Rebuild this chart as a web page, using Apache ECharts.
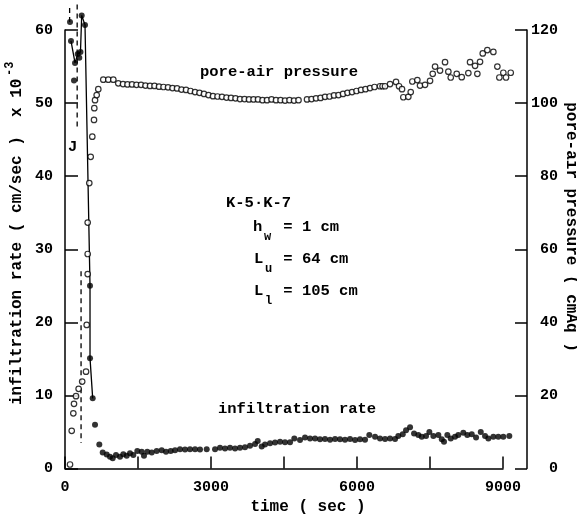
<!DOCTYPE html>
<html><head><meta charset="utf-8">
<script src="https://cdn.jsdelivr.net/npm/echarts@6/dist/echarts.min.js"></script>
<style>html,body{margin:0;padding:0;background:#fff}#c{width:577px;height:520px}</style>
</head><body><div id="c"></div>
<script>
// ---- data ----
const xTickLabels = [0, 3000, 6000, 9000];
const leftTicks = [0, 10, 20, 30, 40, 50, 60];
const rightTicks = [0, 20, 40, 60, 80, 100, 120];

// pore-air pressure (cmAq), open circles, right axis
const airT = [103,138,171,185,226,280,353,432,446,466,466,466,499,528,561,596,602,617,651,684,787,890,993,1095,
  1192,1284,1377,1469,1562,1654,1747,1839,1932,2024,2117,2209,2302,2394,2487,2579,2672,2764,2856,2949,
  3041,3134,3226,3319,3411,3504,3596,3689,3781,3874,3966,4059,4151,4244,4336,4429,4521,4613,4706,4798,
  4973,5066,5158,5251,5343,5436,5528,5620,5713,5805,5898,5990,6083,6175,6268,6360,
  6473,6525,6576,6679,6802,6864,6925,6952,7055,7104,7137,7240,7295,7398,7501,7556,7604,7706,7809,7877,
  7926,8049,8152,8288,8323,8426,8473,8528,8584,8678,8802,8884,8925,9007,9062,9159];
const airP = [1.1,10.3,15.1,17.7,19.8,21.8,23.8,26.5,39.3,53.2,58.7,67.3,78.1,85.3,90.8,95.4,98.6,100.8,102.2,103.8,106.4,106.4,106.4,105.4,
  105.2,105.1,105.1,105.0,105.0,104.8,104.7,104.7,104.5,104.4,104.3,104.1,104.0,103.7,103.6,103.3,103.0,102.8,102.5,102.2,
  101.9,101.8,101.7,101.5,101.4,101.3,101.1,101.1,101.0,101.0,101.0,100.8,100.8,101.0,100.8,100.8,100.7,100.8,100.7,100.8,
  101.0,101.1,101.3,101.4,101.7,101.8,102.1,102.2,102.5,102.8,103.0,103.3,103.6,103.8,104.1,104.4,
  104.6,104.6,104.6,105.2,105.8,104.6,103.8,101.6,101.7,103.0,105.9,106.3,104.8,105.0,106.1,108.0,110.0,108.9,111.2,108.6,
  107.0,108.0,107.1,108.2,111.2,110.2,108.0,111.3,113.6,114.5,114.0,110.0,107.0,108.3,107.0,108.3];

// infiltration rate (cm/sec x 10^-3), filled dots, left axis
const rateT = [103,123,185,206,261,294,318,343,411,514,514,569,617,705,775,857,925,980,1048,1130,
  1198,1268,1336,1404,1486,1576,1623,1691,1782,1884,1987,2075,2172,2261,2363,2466,2569,2672,2774,2912,
  3083,3185,3288,3391,3494,3596,3699,3802,3905,3960,4042,4110,4213,4316,4419,4521,4624,4712,4829,
  4932,5035,5138,5240,5343,5446,5549,5651,5754,5857,5960,6062,6165,6253,6371,6473,6576,6679,6782,6849,
  6940,7008,7090,7172,7260,7330,7419,7487,7569,7672,7742,7788,7856,7926,8014,8082,8185,8267,8358,8446,
  8543,8631,8699,8802,8904,9007,9130];
const rateR = [61.1,58.5,53.1,55.5,56.7,56.2,57.0,62.0,60.7,25.0,15.1,9.6,6.0,3.3,2.2,1.9,1.6,1.4,1.85,1.6,
  1.95,1.75,2.1,1.85,2.4,2.3,1.75,2.3,2.2,2.4,2.5,2.3,2.4,2.5,2.65,2.6,2.65,2.65,2.6,2.65,
  2.65,2.85,2.75,2.85,2.75,2.85,2.9,3.1,3.35,3.75,3.0,3.3,3.45,3.55,3.65,3.6,3.6,4.1,3.9,
  4.25,4.1,4.1,4.0,4.05,3.95,4.05,4.0,3.95,4.05,3.9,4.0,3.95,4.6,4.35,4.1,4.05,4.1,4.05,4.45,
  4.7,5.25,5.65,4.8,4.6,4.35,4.45,5.0,4.45,4.6,4.0,3.65,4.6,4.1,4.35,4.6,4.9,4.6,4.7,4.25,
  5.0,4.45,4.1,4.35,4.35,4.35,4.45];

// solid line joining the early infiltration points
const rateLineT = [123,206,261,318,343,411,514,514,569];
const rateLineR = [58.5,55.5,56.7,57.0,62.0,60.7,25.0,15.1,9.6];

// dashed "J" marker segments (time, from, to) on left axis scale
const jDashT = [95, 250, 330];
const jDashFrom = [63.0, 63.5, 27.0];
const jDashTo = [61.0, 46.3, 3.5];

// ---- chart ----
const FONT = '"Liberation Mono", "Courier New", monospace';
const zip = (a, b) => a.map((v, i) => [v, b[i]]);
const chart = echarts.init(document.getElementById('c'), null, {renderer: 'canvas'});

const series = [
  {type: 'scatter', name: 'pore-air pressure', yAxisIndex: 1, data: zip(airT, airP), symbol: 'circle', symbolSize: 5.5,
   itemStyle: {color: '#fff', borderColor: '#000', borderWidth: 1.2}, clip: false, z: 3},
  {type: 'line', name: 'early', yAxisIndex: 0, data: zip(rateLineT, rateLineR), showSymbol: false, symbol: 'none',
   lineStyle: {color: '#000', width: 1.3}, clip: false, z: 2},
  {type: 'scatter', name: 'infiltration rate', yAxisIndex: 0, data: zip(rateT, rateR), symbol: 'circle', symbolSize: 6,
   itemStyle: {color: '#000'}, clip: false, z: 4}
];
jDashT.forEach((t, i) => {
  series.push({type: 'line', yAxisIndex: 0, data: [[t, jDashFrom[i]], [t, jDashTo[i]]], symbol: 'none', showSymbol: false,
    lineStyle: {color: '#000', width: 1.3, type: [5, 4]}, clip: false, z: 2});
});

const labelStyle = {color: '#000', fontFamily: FONT, fontSize: 15, fontWeight: 'bold'};
const axisLine = {show: true, lineStyle: {color: '#000', width: 1.5}};
const tickStyle = {color: '#000', width: 1.5};

const txt = (x, y, text, size, opts) => Object.assign({
  type: 'text', x: x, y: y, silent: true,
  style: Object.assign({text: text, font: 'bold ' + size + 'px ' + FONT, fill: '#000',
    textAlign: 'left', align: 'left', textVerticalAlign: 'middle', verticalAlign: 'middle'}, (opts && opts.style) || {})
}, (opts && opts.el) || {});

chart.setOption({
  animation: false,
  backgroundColor: '#fff',
  grid: {left: 65, right: 74, top: 30, bottom: 51.5, containLabel: false},
  xAxis: {
    type: 'value', min: 0, max: 9000, interval: 1500,
    axisLine: axisLine,
    axisTick: {show: true, inside: true, length: 12, lineStyle: tickStyle},
    axisLabel: Object.assign({margin: 11, showMinLabel: true, showMaxLabel: true,
      formatter: v => xTickLabels.indexOf(v) >= 0 ? String(v) : ''}, labelStyle),
    splitLine: {show: false}
  },
  yAxis: [
    {type: 'value', min: 0, max: 60, interval: 10, position: 'left',
     axisLine: axisLine,
     axisTick: {show: true, inside: true, length: 13, lineStyle: tickStyle},
     axisLabel: Object.assign({margin: 12, formatter: v => leftTicks.indexOf(v) >= 0 && v !== 0 ? String(v) : (v === 0 ? '0' : '')}, labelStyle),
     splitLine: {show: false}},
    {type: 'value', min: 0, max: 120, interval: 20, position: 'right', offset: 24,
     axisLine: axisLine,
     axisTick: {show: true, inside: true, length: 12, lineStyle: tickStyle},
     axisLabel: Object.assign({margin: 31, align: 'right', formatter: v => rightTicks.indexOf(v) >= 0 ? String(v) : ''}, labelStyle),
     splitLine: {show: false}}
  ],
  series: series,
  graphic: [
    txt(200, 72, 'pore-air pressure', 15.5),
    txt(218, 409, 'infiltration rate', 15.5),
    txt(226, 203, 'K-5\u00B7K-7', 15.5),
    txt(253, 227, 'h', 15.5),
    txt(264, 237, 'w', 12),
    txt(274, 227, ' = 1 cm', 15.5),
    txt(254, 259, 'L', 15.5),
    txt(265, 269, 'u', 12),
    txt(274, 259, ' = 64 cm', 15.5),
    txt(254, 291, 'L', 15.5),
    txt(265, 301, 'l', 12),
    txt(274, 291, ' = 105 cm', 15.5),
    txt(68, 147, 'J', 15.5),
    txt(308, 507, 'time ( sec )', 16, {style: {textAlign: 'center', align: 'center'}}),
    txt(17, 405, 'infiltration rate ( cm/sec )  x 10', 16, {el: {rotation: Math.PI / 2}}),
    txt(10, 76, '-3', 12, {el: {rotation: Math.PI / 2}}),
    txt(571, 227, 'pore-air pressure ( cmAq )', 16, {el: {rotation: -Math.PI / 2}, style: {textAlign: 'center', align: 'center'}})
  ]
});
</script></body></html>
